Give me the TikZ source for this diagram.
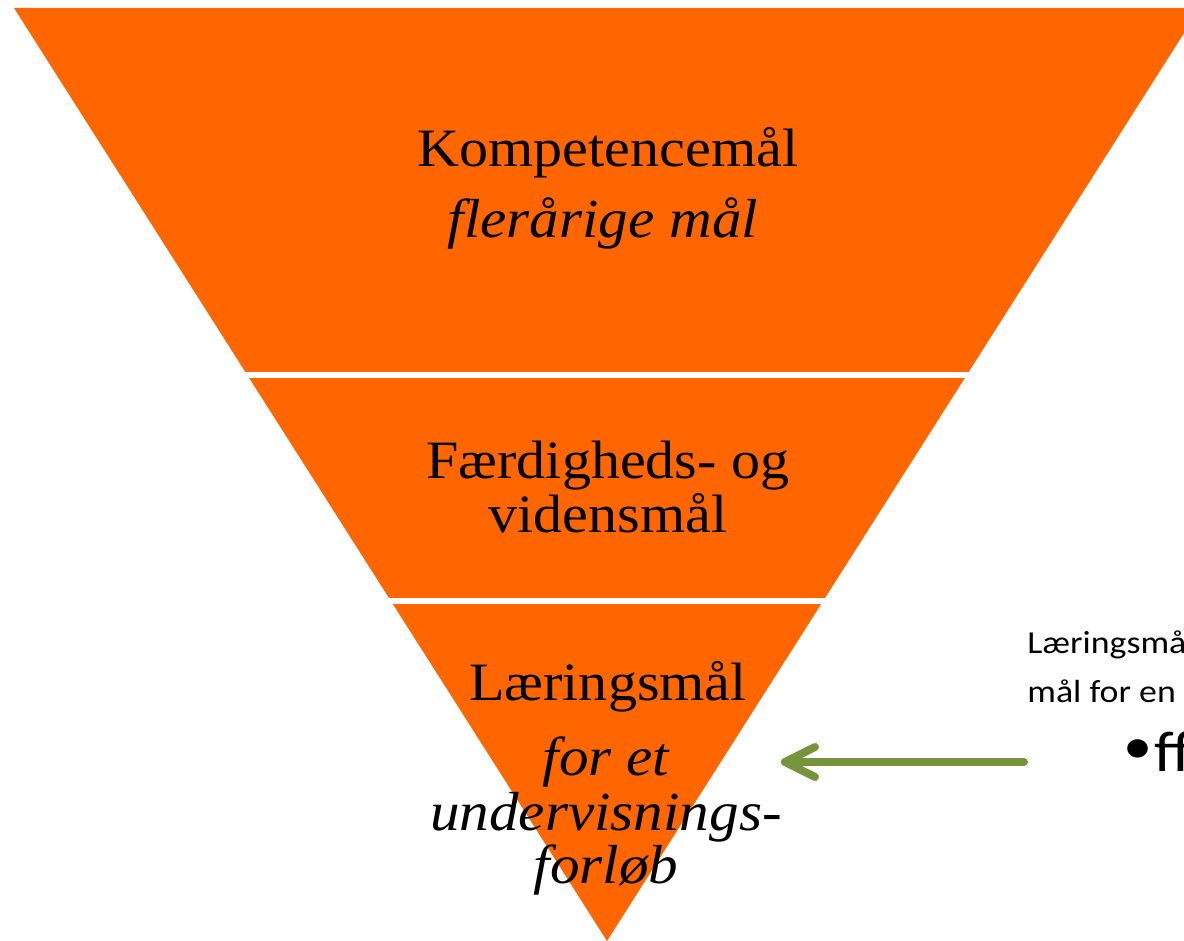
\documentclass[tikz,border=0pt]{standalone}
\usepackage{fontspec}
\setmainfont{Liberation Serif}[FakeStretch=1.075]
\newfontfamily\calibri{Carlito}[FakeStretch=1.12]
\usetikzlibrary{calc}
\definecolor{pyrorange}{RGB}{255,102,0}
\definecolor{olivegreen}{RGB}{119,147,60}
\tikzset{
  band/.style={fill=pyrorange, draw=none},
  gapline/.style={draw=white, line width=3pt},
  pyrtext/.style={anchor=base, inner sep=0pt, font=\fontsize{27}{32}\selectfont},
  pyrital/.style={pyrtext, font=\fontsize{27.5}{32}\selectfont\itshape},
  sidetext/.style={anchor=base west, inner sep=0pt, font=\calibri\fontsize{16}{19}\selectfont},
  sidebig/.style={anchor=base west, inner sep=0pt, font=\calibri\fontsize{29}{34}\selectfont},
  sidebullet/.style={anchor=center, inner sep=0pt, font=\calibri\fontsize{26}{30}\selectfont},
  arrowline/.style={draw=olivegreen, line width=4pt, line cap=round, line join=round}
}
\begin{document}
\begin{tikzpicture}[x=0.5pt, y=-0.5pt]
\useasboundingbox (0,0) rectangle (1184,941);
\clip (0,0) rectangle (1184,941);
% inverted pyramid
\fill[band] (14,8) -- (1200,8) -- (607,941) -- cycle;
\draw[gapline] (0,375.5) -- (1184,375.5);
\draw[gapline] (0,601) -- (1184,601);
% band texts
\node[pyrtext] (k1) at (608,167) {Kompetencemål};
\node[pyrital] (k2) at (603,238) {flerårige mål};
\node[pyrtext] (f1) at (608,478) {Færdigheds- og};
\node[pyrtext] (f2) at (608,532) {vidensmål};
\node[pyrtext] (l1) at (608,700) {Læringsmål};
\node[pyrital] (l2) at (606,775) {for et};
\node[pyrital] (l3) at (606,830) {undervisnings-};
\node[pyrital] (l4) at (606,883) {forløb};
% side text (cut off at the right edge)
\node[sidetext] (s1) at (1027,653) {Læringsmål};
\node[sidetext] (s2) at (1027,702) {mål for en};
\node[sidebullet] (s3) at (1138,752) {•};
\node[sidebig] (s4) at (1154,771) {ff};
% arrow
\coordinate (src) at (1024,762);
\coordinate (tip) at (785,762);
\draw[arrowline] (src) -- (tip);
\draw[arrowline] ($(tip)+(30,-15)$) -- (tip) -- ($(tip)+(30,15)$);
\end{tikzpicture}
\end{document}
